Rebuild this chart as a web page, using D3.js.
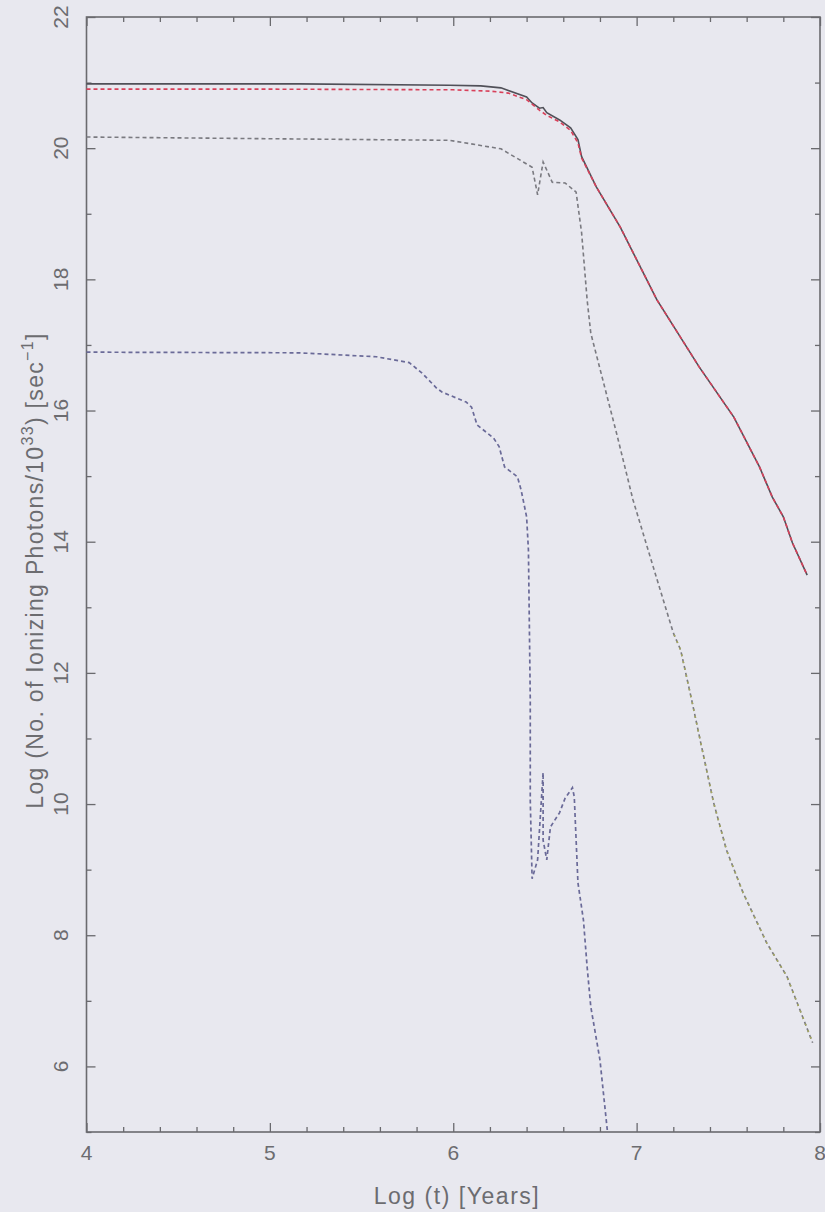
<!DOCTYPE html>
<html>
<head>
<meta charset="utf-8">
<script src="https://cdn.jsdelivr.net/npm/d3@7"></script>
<style>
  html, body { margin: 0; padding: 0; background: #e8e8ef; }
  svg { display: block; }
  text { font-family: "Liberation Sans", Arial, sans-serif; fill: #6c6c70; }
</style>
</head>
<body>
<svg id="chart" width="825" height="1212"></svg>
<script>
// Log(t) [yr] vs Log(ionizing photon rate / 1e33) for four models
const xTicks = [4, 5, 6, 7, 8];
const yTicks = [6, 8, 10, 12, 14, 16, 18, 20, 22];

// solid dark curve
const solidT = [4.0, 5.16, 5.98, 6.15, 6.26, 6.40, 6.43, 6.47, 6.49, 6.51, 6.58, 6.64, 6.68, 6.70, 6.78, 6.91, 7.11, 7.34, 7.53, 7.67, 7.74, 7.80, 7.85, 7.93];
const solidQ = [20.98, 20.98, 20.96, 20.95, 20.92, 20.78, 20.69, 20.61, 20.62, 20.54, 20.43, 20.31, 20.13, 19.87, 19.41, 18.80, 17.69, 16.67, 15.90, 15.14, 14.68, 14.38, 13.98, 13.49];

// red dashed curve
const redT = [4.0, 5.0, 6.0, 6.2, 6.3, 6.40, 6.47, 6.51, 6.58, 6.64, 6.68, 6.70, 6.78, 6.91, 7.11, 7.34, 7.53, 7.67, 7.74, 7.80, 7.85, 7.93];
const redQ = [20.90, 20.90, 20.89, 20.87, 20.84, 20.74, 20.58, 20.50, 20.40, 20.27, 20.08, 19.85, 19.41, 18.80, 17.69, 16.67, 15.90, 15.14, 14.68, 14.38, 13.98, 13.49];

// grey dashed curve
const greyT = [4.0, 5.16, 5.98, 6.26, 6.43, 6.46, 6.49, 6.54, 6.61, 6.67, 6.70, 6.73, 6.75, 6.89, 6.98, 7.09, 7.20, 7.24, 7.30, 7.35, 7.42, 7.49, 7.58, 7.71, 7.82, 7.96];
const greyQ = [20.17, 20.14, 20.12, 19.99, 19.71, 19.29, 19.79, 19.48, 19.47, 19.33, 18.71, 17.69, 17.18, 15.66, 14.64, 13.62, 12.61, 12.35, 11.59, 10.93, 10.02, 9.30, 8.65, 7.88, 7.37, 6.36];

// olive dotted curve, coinciding with the grey one at late times
const oliveT = [7.20, 7.24, 7.30, 7.35, 7.42, 7.49, 7.58, 7.71, 7.82, 7.96];
const oliveQ = [12.61, 12.35, 11.59, 10.93, 10.02, 9.30, 8.65, 7.88, 7.37, 6.36];

// blue dashed curve
const blueT = [4.0, 5.16, 5.58, 5.76, 5.83, 5.91, 5.94, 6.07, 6.10, 6.13, 6.22, 6.25, 6.28, 6.35, 6.37, 6.40, 6.41, 6.42, 6.42, 6.43, 6.46, 6.49, 6.49, 6.51, 6.53, 6.58, 6.61, 6.65, 6.66, 6.68, 6.71, 6.73, 6.75, 6.80, 6.84];
const blueQ = [16.89, 16.88, 16.82, 16.73, 16.57, 16.34, 16.28, 16.13, 16.05, 15.78, 15.58, 15.45, 15.14, 14.99, 14.79, 14.38, 13.87, 11.59, 10.06, 8.86, 9.15, 10.48, 9.45, 9.15, 9.65, 9.87, 10.09, 10.25, 10.11, 8.80, 8.23, 7.52, 6.91, 6.10, 5.03];

const svg = d3.select("#chart");
const x = d3.scaleLinear().domain([4, 8]).range([86.5, 820]);
const y = d3.scaleLinear().domain([5, 22]).range([1132, 17]);

const axisColor = "#6a6a6e";
const xMinor = d3.range(4, 8.001, 0.2).filter(v => Math.abs(v - Math.round(v)) > 1e-6);
const yMinor = d3.range(5, 22.001, 1).filter(v => v % 2 !== 0);

function styleAxis(g) {
  g.select(".domain").remove();
  g.selectAll("line").attr("stroke", axisColor).attr("stroke-width", 1.3);
  g.selectAll("text").remove();
}

// inward ticks on all four sides
svg.append("g").attr("transform", `translate(0,${y(5)})`)
  .call(d3.axisBottom(x).tickValues(xTicks).tickSize(-9)).call(styleAxis);
svg.append("g").attr("transform", `translate(0,${y(5)})`)
  .call(d3.axisBottom(x).tickValues(xMinor).tickSize(-5)).call(styleAxis);
svg.append("g").attr("transform", `translate(0,${y(22)})`)
  .call(d3.axisTop(x).tickValues(xTicks).tickSize(-9)).call(styleAxis);
svg.append("g").attr("transform", `translate(0,${y(22)})`)
  .call(d3.axisTop(x).tickValues(xMinor).tickSize(-5)).call(styleAxis);
svg.append("g").attr("transform", `translate(${x(4)},0)`)
  .call(d3.axisLeft(y).tickValues(yTicks).tickSize(-9)).call(styleAxis);
svg.append("g").attr("transform", `translate(${x(4)},0)`)
  .call(d3.axisLeft(y).tickValues(yMinor).tickSize(-5)).call(styleAxis);
svg.append("g").attr("transform", `translate(${x(8)},0)`)
  .call(d3.axisRight(y).tickValues(yTicks).tickSize(-9)).call(styleAxis);
svg.append("g").attr("transform", `translate(${x(8)},0)`)
  .call(d3.axisRight(y).tickValues(yMinor).tickSize(-5)).call(styleAxis);

// frame
svg.append("rect")
  .attr("x", x(4)).attr("y", y(22))
  .attr("width", x(8) - x(4)).attr("height", y(5) - y(22))
  .attr("fill", "none").attr("stroke", axisColor).attr("stroke-width", 1.6);

// tick labels
svg.append("g").selectAll("text").data(xTicks).join("text")
  .attr("x", d => x(d)).attr("y", 1160)
  .attr("text-anchor", "middle").attr("font-size", 21)
  .text(d => d);
svg.append("g").selectAll("text").data(yTicks).join("text")
  .attr("transform", d => `translate(68,${y(d)}) rotate(-90)`)
  .attr("text-anchor", "middle").attr("font-size", 21)
  .text(d => d);

// spread a title's letters so it spans the given length
function fitLength(sel, target) {
  const node = sel.node();
  const len = node.getComputedTextLength();
  const n = node.textContent.length;
  sel.attr("letter-spacing", ((target - len) / Math.max(1, n - 1)).toFixed(2));
}

// axis titles
const xt = svg.append("text")
  .attr("x", 457).attr("y", 1204)
  .attr("text-anchor", "middle").attr("font-size", 23)
  .text("Log (t) [Years]");
fitLength(xt, 165);

const yt = svg.append("text")
  .attr("transform", `translate(43,${(y(5) + y(22)) / 2 - 4}) rotate(-90)`)
  .attr("text-anchor", "middle").attr("font-size", 23);
yt.append("tspan").text("Log (No. of Ionizing Photons/10");
yt.append("tspan").attr("dy", -10).attr("font-size", 16).text("33");
yt.append("tspan").attr("dy", 10).text(") [sec");
yt.append("tspan").attr("dy", -10).attr("font-size", 16).text("\u22121");
yt.append("tspan").attr("dy", 10).text("]");
fitLength(yt, 475);

// curves
const line = d3.line().x(d => x(d[0])).y(d => y(d[1]));
const zip = (a, b) => a.map((v, i) => [v, b[i]]);

const plot = svg.append("g");
plot.append("path").datum(zip(greyT, greyQ)).attr("d", line)
  .attr("fill", "none").attr("stroke", "#7a7a80").attr("stroke-width", 1.6)
  .attr("stroke-dasharray", "4,3");
plot.append("path").datum(zip(oliveT, oliveQ)).attr("d", line)
  .attr("fill", "none").attr("stroke", "#a6a860").attr("stroke-width", 1.6)
  .attr("stroke-dasharray", "2,5").attr("stroke-dashoffset", 5);
plot.append("path").datum(zip(blueT, blueQ)).attr("d", line)
  .attr("fill", "none").attr("stroke", "#6a6a98").attr("stroke-width", 1.7)
  .attr("stroke-dasharray", "4,3");
plot.append("path").datum(zip(solidT, solidQ)).attr("d", line)
  .attr("fill", "none").attr("stroke", "#505058").attr("stroke-width", 1.6);
plot.append("path").datum(zip(redT, redQ)).attr("d", line)
  .attr("fill", "none").attr("stroke", "#d8405a").attr("stroke-width", 1.6)
  .attr("stroke-dasharray", "4,3");
</script>
</body>
</html>
